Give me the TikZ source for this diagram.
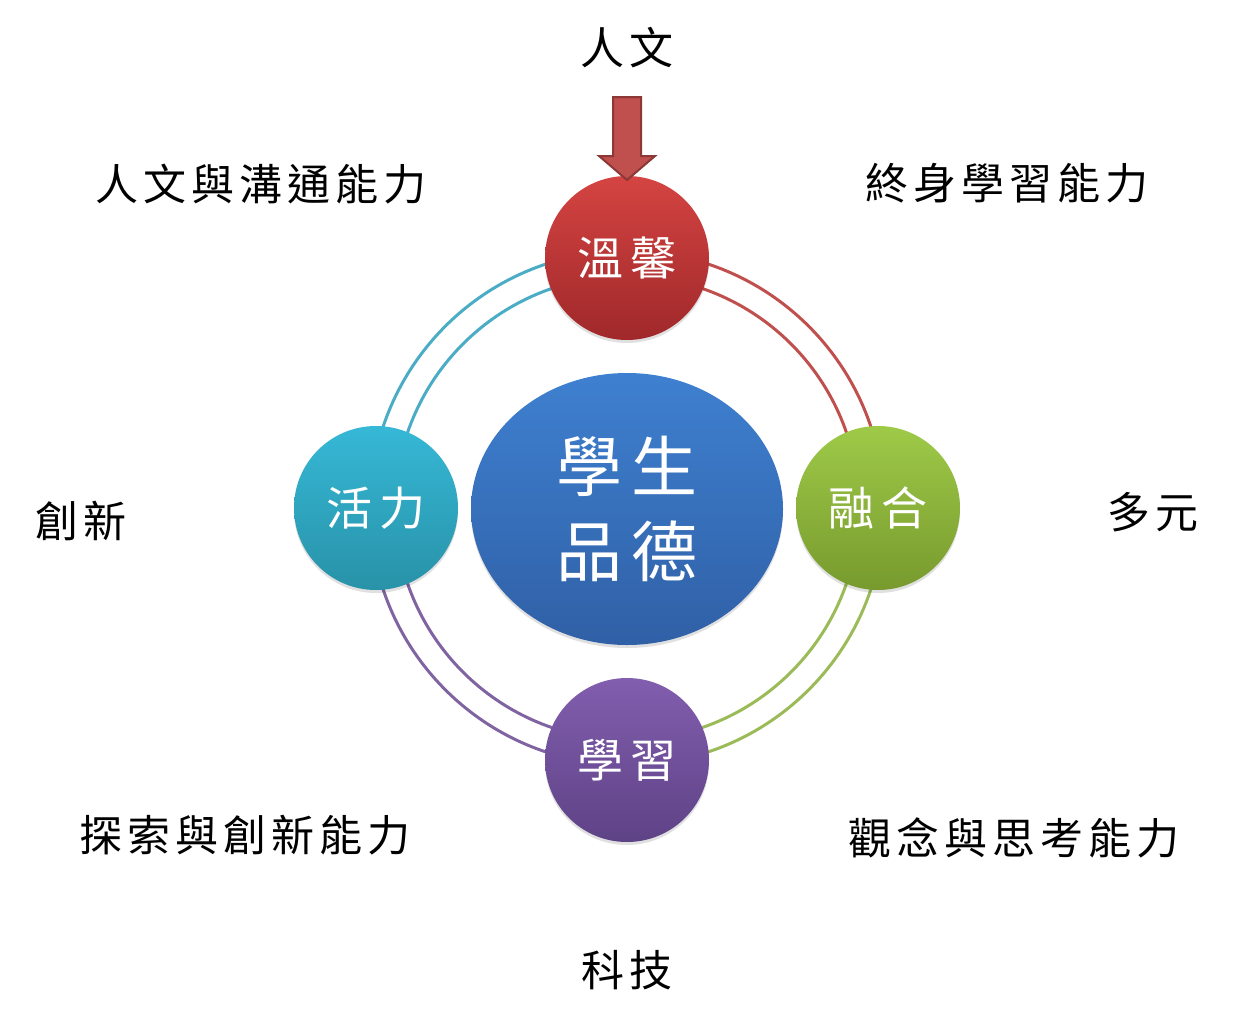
\documentclass[tikz,border=0pt]{standalone}
\usepackage{fontspec}
\newfontfamily\cjk{Noto Sans CJK TC}
\usetikzlibrary{shapes.geometric,shadows}
\definecolor{redA}{RGB}{212,68,66}
\definecolor{redB}{RGB}{160,40,42}
\definecolor{cyanA}{RGB}{54,184,214}
\definecolor{cyanB}{RGB}{40,146,168}
\definecolor{greenA}{RGB}{158,202,72}
\definecolor{greenB}{RGB}{120,154,46}
\definecolor{purpA}{RGB}{130,94,174}
\definecolor{purpB}{RGB}{94,66,134}
\definecolor{blueA}{RGB}{62,128,208}
\definecolor{blueB}{RGB}{48,96,166}
\definecolor{arcRed}{RGB}{192,80,77}
\definecolor{arcGreen}{RGB}{155,187,89}
\definecolor{arcPurple}{RGB}{128,100,162}
\definecolor{arcCyan}{RGB}{75,172,198}
\definecolor{arrowFill}{RGB}{192,80,77}
\definecolor{arrowLine}{RGB}{140,56,54}
\newcommand\sq{\hspace{0.12em}}
\newcommand\sqs{\hspace{0.15em}}
\begin{document}
\begin{tikzpicture}[x=1pt,y=1pt,
  ball/.style={circle,minimum size=164pt,inner sep=0pt,text=white,
    font=\cjk\fontsize{46}{50}\selectfont,
    drop shadow={shadow xshift=0pt,shadow yshift=-3pt,opacity=0.12,fill=black}},
  lbl/.style={font=\cjk\fontsize{43}{46}\selectfont,text=black,inner sep=0pt},
  ring/.style={line width=3pt}]
\useasboundingbox (0,0) rectangle (1234,-1028);
\coordinate (c) at (627,-508);
% double ring arcs
\draw[ring,arcRed]    ([shift={(90:257pt)}]c) arc[start angle=90,end angle=0,radius=257pt];
\draw[ring,arcRed]    ([shift={(90:232pt)}]c) arc[start angle=90,end angle=0,radius=232pt];
\draw[ring,arcGreen]  ([shift={(0:257pt)}]c) arc[start angle=0,end angle=-90,radius=257pt];
\draw[ring,arcGreen]  ([shift={(0:232pt)}]c) arc[start angle=0,end angle=-90,radius=232pt];
\draw[ring,arcPurple] ([shift={(-90:257pt)}]c) arc[start angle=-90,end angle=-180,radius=257pt];
\draw[ring,arcPurple] ([shift={(-90:232pt)}]c) arc[start angle=-90,end angle=-180,radius=232pt];
\draw[ring,arcCyan]   ([shift={(180:257pt)}]c) arc[start angle=180,end angle=90,radius=257pt];
\draw[ring,arcCyan]   ([shift={(180:232pt)}]c) arc[start angle=180,end angle=90,radius=232pt];
% center
\node[ellipse,minimum width=312pt,minimum height=272pt,inner sep=0pt,
  top color=blueA,bottom color=blueB,text=white,align=center,
  font=\cjk\fontsize{66}{85}\selectfont,
  drop shadow={shadow xshift=0pt,shadow yshift=-3pt,opacity=0.12,fill=black}]
  (center) at (627,-509) {學\sqs 生\\品\sqs 德};
% four balls
\node[ball,top color=redA,bottom color=redB]     (top)    at (627,-258) {溫\sqs 馨};
\node[ball,top color=cyanA,bottom color=cyanB]   (left)   at (376,-508) {活\sqs 力};
\node[ball,top color=greenA,bottom color=greenB] (right)  at (878,-508) {融\sqs 合};
\node[ball,top color=purpA,bottom color=purpB]   (bottom) at (627,-760) {學\sqs 習};
% arrow
\node[lbl,font=\cjk\fontsize{44}{46}\selectfont] (hum) at (627,-48) {人\sq 文};
\coordinate (tip) at (627,-180);
\filldraw[fill=arrowFill,draw=arrowLine,line width=2pt,line join=miter]
  (613,-97) -- (641,-97) -- (641,-156) -- (655,-156) -- (tip) -- (599,-156) -- (613,-156) -- cycle;
% labels
\node[lbl] (l1) at (261,-184) {人\sq 文\sq 與\sq 溝\sq 通\sq 能\sq 力};
\node[lbl] (l2) at (1007,-183) {終\sq 身\sq 學\sq 習\sq 能\sq 力};
\node[lbl] (l3) at (81,-521) {創\sq 新};
\node[lbl] (l4) at (1153,-512) {多\sq 元};
\node[lbl] (l5) at (245,-835) {探\sq 索\sq 與\sq 創\sq 新\sq 能\sq 力};
\node[lbl] (l6) at (1014,-838) {觀\sq 念\sq 與\sq 思\sq 考\sq 能\sq 力};
\node[lbl] (l7) at (627,-970) {科\sq 技};
\end{tikzpicture}
\end{document}
